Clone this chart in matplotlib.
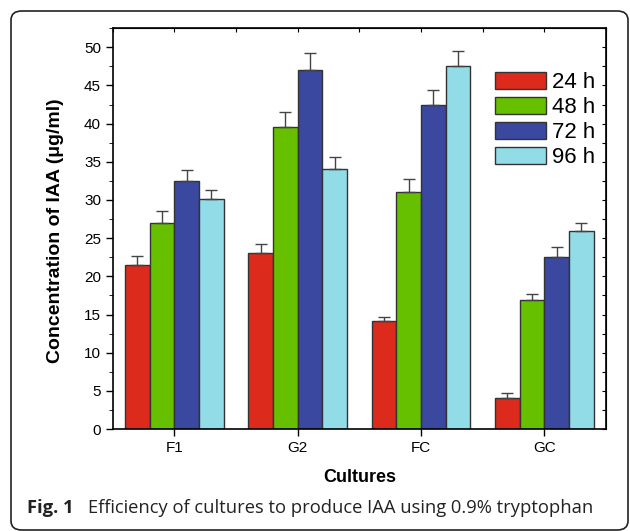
import numpy as np
import matplotlib.pyplot as plt
from matplotlib.patches import FancyBboxPatch
from matplotlib.ticker import MultipleLocator

cultures = ['F1', 'G2', 'FC', 'GC']
series = ['24 h', '48 h', '72 h', '96 h']
iaa_24 = [21.5, 23.0, 14.2, 4.1]
iaa_48 = [27.0, 39.5, 31.0, 16.9]
iaa_72 = [32.5, 47.0, 42.5, 22.5]
iaa_96 = [30.1, 34.0, 47.5, 26.0]
err_24 = [1.2, 1.2, 0.5, 0.6]
err_48 = [1.6, 2.0, 1.7, 0.8]
err_72 = [1.4, 2.3, 1.9, 1.4]
err_96 = [1.2, 1.6, 2.0, 1.0]
colors = ['#dc2a1c', '#66c000', '#3a48a0', '#92dce8']

plt.rcParams['font.family'] = ['Liberation Sans', 'DejaVu Sans']

fig = plt.figure(figsize=(6.3, 5.31), dpi=100)
ax = fig.add_axes([0.179, 0.192, 0.783, 0.755])

# rounded frame around the figure
frame = FancyBboxPatch((11 / 630, 1 / 531), 617 / 630, 519 / 531,
                       boxstyle='round,pad=0,rounding_size=0.017',
                       transform=fig.transFigure, fill=False,
                       edgecolor='#222222', linewidth=1.2, clip_on=False)
fig.patches.append(frame)

x = np.arange(1, len(cultures) + 1)
width = 0.2
values = [iaa_24, iaa_48, iaa_72, iaa_96]
errors = [err_24, err_48, err_72, err_96]
for i, (vals, errs) in enumerate(zip(values, errors)):
    ax.bar(x + (i - 1.5) * width, vals, width, color=colors[i],
           edgecolor='#333333', linewidth=1, label=series[i],
           yerr=[np.zeros(len(errs)), errs], capsize=4,
           error_kw=dict(ecolor='#444444', elinewidth=1, capthick=1))

ax.set_xlim(0.5, 4.5)
ax.set_ylim(0, 52.5)
ax.set_xticks(x)
ax.set_xticklabels(cultures)
ax.yaxis.set_major_locator(MultipleLocator(5))
ax.yaxis.set_minor_locator(MultipleLocator(2.5))
ax.tick_params(axis='both', labelsize=11, direction='out', width=1)
ax.tick_params(axis='y', which='major', length=5)
ax.tick_params(axis='y', which='minor', length=3)
ax.tick_params(axis='x', which='major', length=5)
for s in ax.spines.values():
    s.set_linewidth(1.2)

top = ax.secondary_xaxis('top')
top.set_xticks(np.arange(0.5, 4.6, 0.5))
top.tick_params(direction='in', length=3, labeltop=False)
right = ax.secondary_yaxis('right')
right.set_yticks(np.arange(0, 52.6, 2.5))
right.tick_params(direction='in', length=3, labelright=False)

ax.set_xlabel('Cultures', fontsize=13, fontweight='bold', labelpad=10)
ax.set_ylabel('Concentration of IAA (μg/ml)', fontsize=14, fontweight='bold')
ax.yaxis.set_label_coords(-0.099, 0.494)

ax.legend(loc='upper left', bbox_to_anchor=(0.775, 0.89), frameon=False,
          fontsize=16, handlelength=2.3, handleheight=0.75, handletextpad=0.25,
          labelspacing=0.18, borderpad=0, borderaxespad=0)

fig.text(27 / 630, 1 - 508 / 531, 'Fig. 1', fontsize=13.2, fontweight='bold',
         family='Open Sans', va='center', ha='left', color='#222222')
fig.text(88 / 630, 1 - 508 / 531,
         'Efficiency of cultures to produce IAA using 0.9% tryptophan',
         fontsize=13.2, family='Open Sans', va='center', ha='left', color='#222222')

fig.savefig('out.png', dpi=100)
